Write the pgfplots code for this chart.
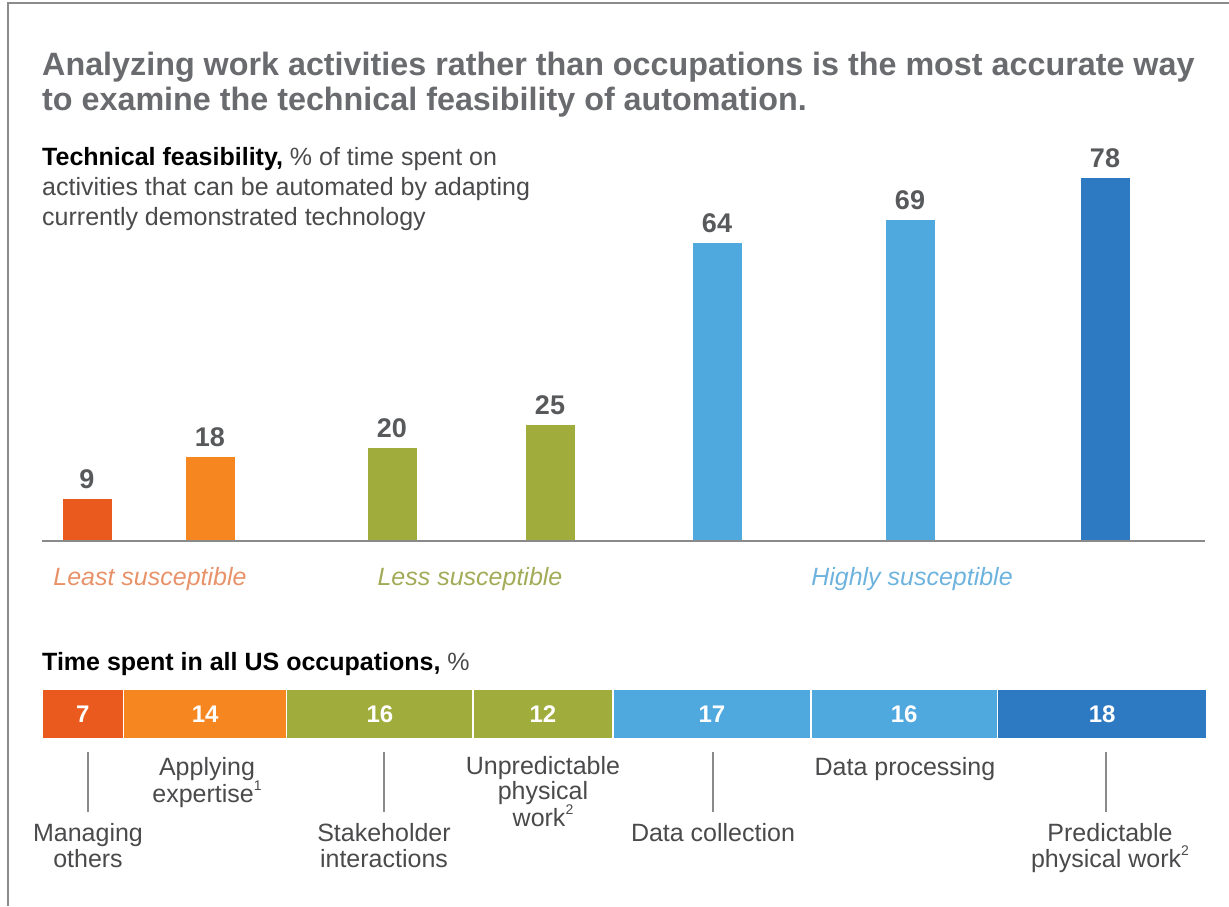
\documentclass[border=0pt]{standalone}
\usepackage{pgfplots}
\pgfplotsset{compat=1.18}
\usepackage{fontspec}
\setmainfont{Liberation Sans}
\definecolor{cA}{HTML}{EA5A1E}
\definecolor{cB}{HTML}{F6861F}
\definecolor{cC}{HTML}{A0AC3B}
\definecolor{cD}{HTML}{4FA8DE}
\definecolor{cE}{HTML}{2E7AC2}
\definecolor{titlegray}{HTML}{6A6B6E}
\definecolor{valgray}{HTML}{58595B}
\definecolor{txtgray}{HTML}{4A4A4C}
\definecolor{axisgray}{HTML}{8A8A8A}
\definecolor{framegray}{HTML}{8C8C8C}
\definecolor{lLeast}{HTML}{E8926A}
\definecolor{lLess}{HTML}{A3AB58}
\definecolor{lHigh}{HTML}{6EB3DE}
\newcommand{\secfont}{\fontsize{25}{30}\selectfont}
\newcommand{\fnsup}[1]{\raisebox{0.9ex}{\fontsize{14}{14}\selectfont #1}}
\begin{document}
\begin{tikzpicture}[x=1pt,y=1pt]
\path[use as bounding box] (0,0) rectangle (1229,906);
\draw[color=framegray, line width=2.5pt] (8,0) -- (8,903) -- (1229,903);
% Title
\node[anchor=base west, inner sep=0, text=titlegray, font=\fontsize{32.3}{35}\selectfont\bfseries] at (42,{906-76}) {Analyzing work activities rather than occupations is the most accurate way};
\node[anchor=base west, inner sep=0, text=titlegray, font=\fontsize{32.3}{35}\selectfont\bfseries] at (42,{906-111}) {to examine the technical feasibility of automation.};
% Subtitle
\node[anchor=base west, inner sep=0, text=txtgray, font=\secfont] at (42,{906-166}) {\textbf{\color{black}Technical feasibility,} \% of time spent on};
\node[anchor=base west, inner sep=0, text=txtgray, font=\secfont] at (42,{906-196}) {activities that can be automated by adapting};
\node[anchor=base west, inner sep=0, text=txtgray, font=\secfont] at (42,{906-226}) {currently demonstrated technology};
% Bar chart
\begin{axis}[at={(42pt,365pt)}, anchor=south west, scale only axis,
  width=1163pt, height=363pt, xmin=42, xmax=1205, ymin=0, ymax=78,
  hide axis, clip=false, ybar, bar width=49,
  nodes near coords, point meta=explicit symbolic,
  every node near coord/.style={font=\fontsize{27}{27}\selectfont\bfseries, text=valgray, anchor=south, inner sep=0pt, yshift=10pt}]
\addplot[fill=cA, draw=none, bar shift=0pt] coordinates {(87,9) [9]};
\addplot[fill=cB, draw=none, bar shift=0pt] coordinates {(210,18) [18]};
\addplot[fill=cC, draw=none, bar shift=0pt] coordinates {(392,20) [20]};
\addplot[fill=cC, draw=none, bar shift=0pt] coordinates {(550,25) [25]};
\addplot[fill=cD, draw=none, bar shift=0pt] coordinates {(717,64) [64]};
\addplot[fill=cD, draw=none, bar shift=0pt] coordinates {(910,69) [69]};
\addplot[fill=cE, draw=none, bar shift=0pt] coordinates {(1105,78) [78]};
\draw[line width=2pt, color=axisgray] (axis cs:42,0) -- (axis cs:1205,0);
\end{axis}
% Group labels
\node[anchor=base, inner sep=0, text=lLeast, font=\secfont\itshape] at (150,{906-586}) {Least susceptible};
\node[anchor=base, inner sep=0, text=lLess, font=\secfont\itshape] at (470,{906-586}) {Less susceptible};
\node[anchor=base, inner sep=0, text=lHigh, font=\secfont\itshape] at (912,{906-586}) {Highly susceptible};
% Second section title
\node[anchor=base west, inner sep=0, text=black, font=\secfont] at (42,{906-670}) {\textbf{Time spent in all US occupations,} {\color{txtgray}\%}};
% Stacked bar
\begin{axis}[at={(42pt,167pt)}, anchor=south west, scale only axis,
  width=1165pt, height=50pt, xmin=0, xmax=100, ymin=-0.5, ymax=0.5,
  hide axis, xbar stacked, bar width=50pt]
\addplot[fill=cA, draw=white, line width=1.5pt] coordinates {(7,0)};
\addplot[fill=cB, draw=white, line width=1.5pt] coordinates {(14,0)};
\addplot[fill=cC, draw=white, line width=1.5pt] coordinates {(16,0)};
\addplot[fill=cC, draw=white, line width=1.5pt] coordinates {(12,0)};
\addplot[fill=cD, draw=white, line width=1.5pt] coordinates {(17,0)};
\addplot[fill=cD, draw=white, line width=1.5pt] coordinates {(16,0)};
\addplot[fill=cE, draw=white, line width=1.5pt] coordinates {(18,0)};
\end{axis}
\begin{axis}[at={(42pt,167pt)}, anchor=south west, scale only axis,
  width=1165pt, height=50pt, xmin=0, xmax=100, ymin=-0.5, ymax=0.5,
  hide axis, clip=false]
\addplot[draw=none, mark=none, nodes near coords, point meta=explicit symbolic,
  every node near coord/.style={anchor=center, inner sep=0pt, text=white, font=\fontsize{24}{24}\selectfont\bfseries}]
  coordinates {(3.5,0) [7] (14,0) [14] (29,0) [16] (43,0) [12] (57.5,0) [17] (74,0) [16] (91,0) [18]};
\end{axis}
% Leader lines
\foreach \lx in {88,384,713,1106} {
  \draw[color=axisgray, line width=1.2pt] (\lx,{906-752}) -- (\lx,{906-812});
}
% Category labels
\tikzset{cl/.style={anchor=base, inner sep=0, text=txtgray, font=\secfont}}
\node[cl] at (88,{906-841}) {Managing};
\node[cl] at (88,{906-867}) {others};
\node[cl] at (207,{906-775}) {Applying};
\node[cl] at (207,{906-802}) {expertise\fnsup{1}};
\node[cl] at (384,{906-841}) {Stakeholder};
\node[cl] at (384,{906-867}) {interactions};
\node[cl] at (543,{906-774}) {Unpredictable};
\node[cl] at (543,{906-799}) {physical};
\node[cl] at (543,{906-826}) {work\fnsup{2}};
\node[cl] at (713,{906-841}) {Data collection};
\node[cl] at (905,{906-775}) {Data processing};
\node[cl] at (1110,{906-841}) {Predictable};
\node[cl] at (1110,{906-867}) {physical work\fnsup{2}};
\end{tikzpicture}
\end{document}
